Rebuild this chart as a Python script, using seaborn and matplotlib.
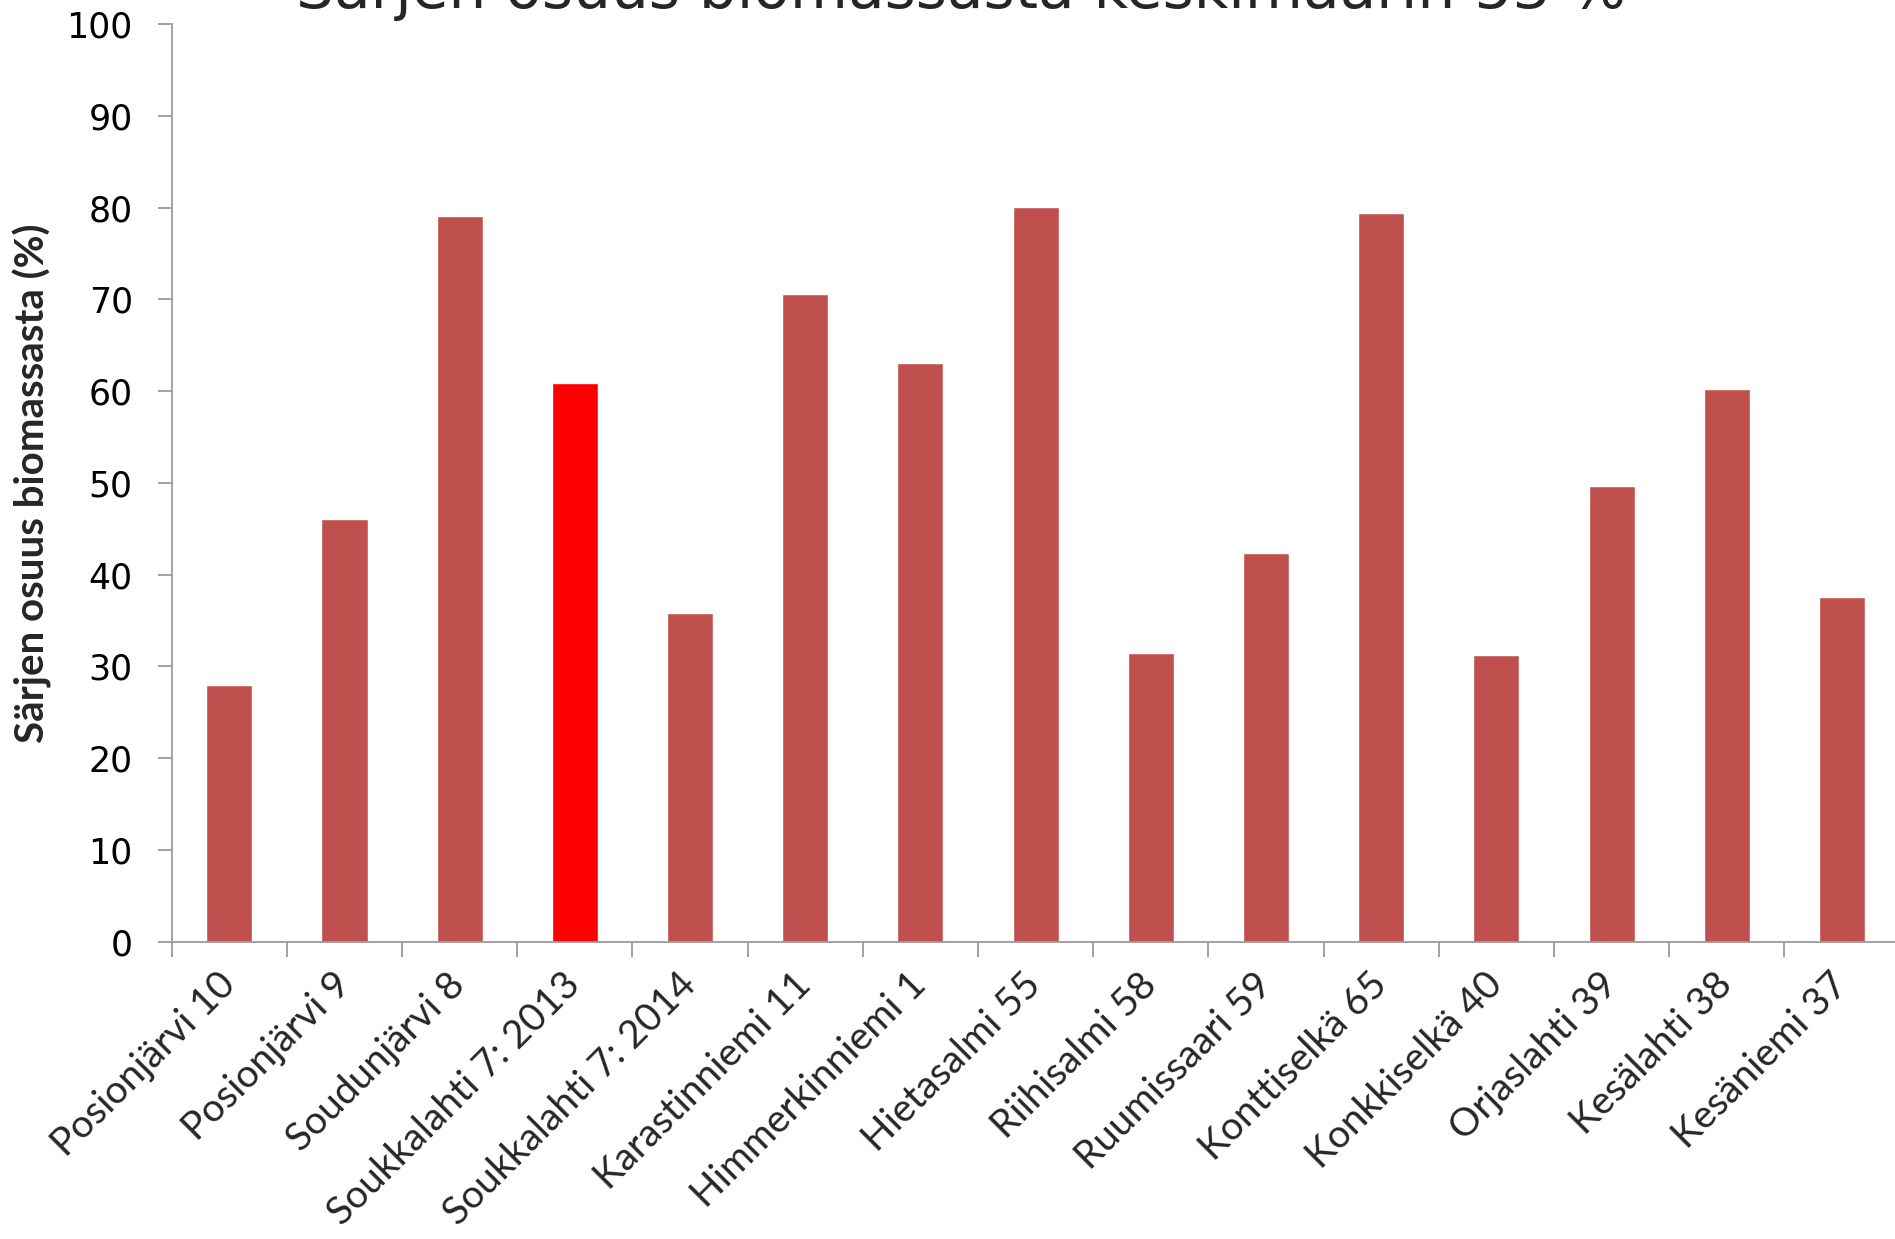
import matplotlib
matplotlib.use("Agg")
import matplotlib.pyplot as plt
from matplotlib.ticker import FixedLocator, MultipleLocator
import seaborn as sns
import pandas as pd

# Sampling sites and the roach share of fish biomass (%)
sites = [
    "Posionjärvi 10", "Posionjärvi 9", "Soudunjärvi 8", "Soukkalahti 7: 2013",
    "Soukkalahti 7: 2014", "Karastinniemi 11", "Himmerkinniemi 1", "Hietasalmi 55",
    "Riihisalmi 58", "Ruumissaari 59", "Konttiselkä 65", "Konkkiselkä 40",
    "Orjaslahti 39", "Kesälahti 38", "Kesäniemi 37",
]
share = [28.0, 46.0, 79.1, 60.9, 35.8, 70.6, 63.1, 80.1, 31.5, 42.3,
         79.4, 31.2, 49.7, 60.2, 37.5]
highlight_site = "Soukkalahti 7: 2013"

title = "Särjen osuus biomassasta keskimäärin 53 %"
ylabel = "Särjen osuus biomassasta (%)"

base_color = "#C0504D"
highlight_color = "#FF0000"
axis_color = "#9a9a9a"

df = pd.DataFrame({"site": sites, "share": share})
palette = {s: (highlight_color if s == highlight_site else base_color) for s in sites}

sns.set_theme(style="white")
plt.rcParams["font.family"] = ["DejaVu Sans"]

fig = plt.figure(figsize=(18.95, 12.39), dpi=100)
ax = fig.add_axes([0.0906, 0.2401, 0.9118, 0.7405])

sns.barplot(data=df, x="site", y="share", hue="site", palette=palette,
            width=0.4, saturation=1, legend=False, ax=ax)

ax.set_xlim(-0.5, len(sites) - 0.5)
ax.set_ylim(0, 100)
ax.yaxis.set_major_locator(MultipleLocator(10))

for side in ("top", "right"):
    ax.spines[side].set_visible(False)
for side in ("left", "bottom"):
    ax.spines[side].set_color(axis_color)
    ax.spines[side].set_linewidth(1.3)

# y axis ticks and labels
ax.tick_params(axis="y", which="major", direction="out", length=10,
               width=1.3, color=axis_color, pad=18, labelsize=25,
               labelcolor="black", left=True)

# x axis: tick marks at category boundaries, labels at bar centres
ax.xaxis.set_minor_locator(FixedLocator([i - 0.5 for i in range(len(sites) + 1)]))
ax.tick_params(axis="x", which="minor", direction="out", length=11,
               width=1.3, color=axis_color, bottom=True)
ax.tick_params(axis="x", which="major", length=0, pad=27)
ax.set_xticks(range(len(sites)))
ax.set_xticklabels(sites, rotation=45, ha="right", va="center",
                   rotation_mode="anchor", fontsize=28,
                   family=["Lato", "DejaVu Sans"])
ax.set_xlabel("")

ax.set_ylabel(ylabel, fontsize=29, fontweight="bold",
              family=["Liberation Sans Narrow", "Lato", "DejaVu Sans"])
ax.yaxis.set_label_coords(-0.069, 0.5)

fig.text(0.507, 1 - 8 / 1239, title, ha="center", va="baseline",
         fontsize=43, family="DejaVu Sans")

fig.savefig("out.png", dpi=100, facecolor="white")
